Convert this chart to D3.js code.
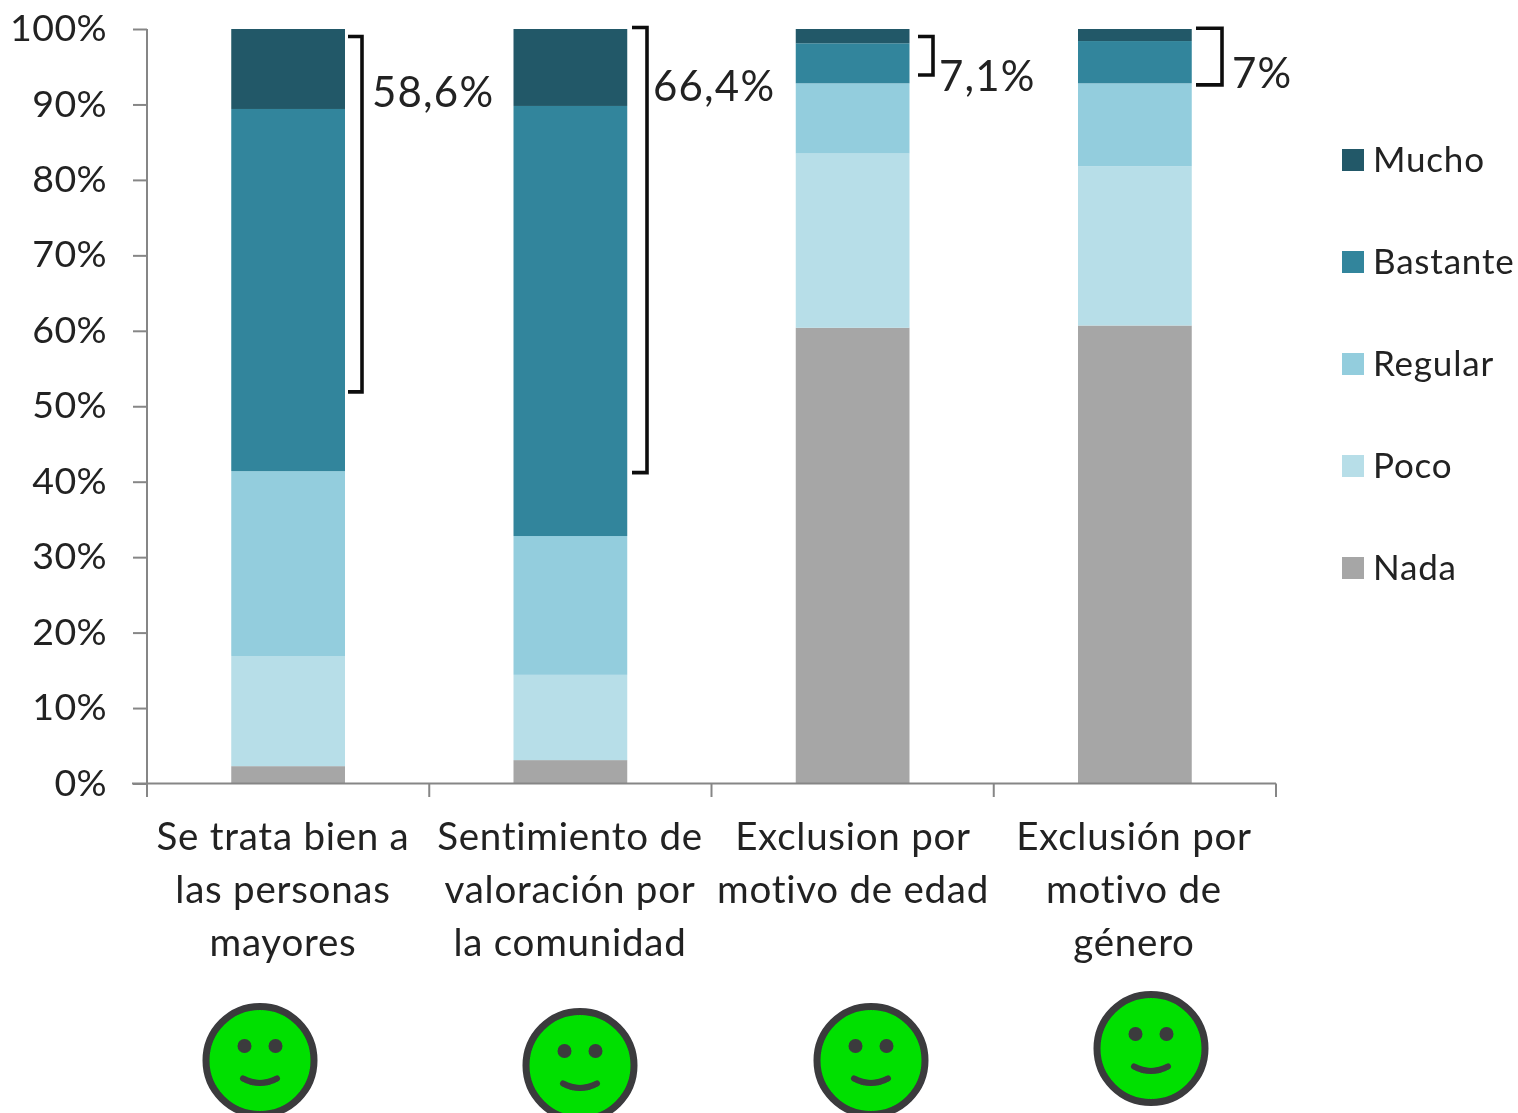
<!DOCTYPE html>
<html><head><meta charset="utf-8">
<style>html,body{margin:0;padding:0;background:#fff}svg{display:block}
text{font-family:Lato,"Open Sans",sans-serif;fill:#222}</style>
<script src="https://d3js.org/d3.v7.min.js"></script></head><body>
<script>
const categories=["Se trata bien a las personas mayores","Sentimiento de valoración por la comunidad","Exclusion por motivo de edad","Exclusión por motivo de género"];
const labelLines=[["Se trata bien a","las personas","mayores"],["Sentimiento de","valoración por","la comunidad"],["Exclusion por","motivo de edad"],["Exclusión por","motivo de","género"]];
const seriesNames=["Nada","Poco","Regular","Bastante","Mucho"];
const nada=[2.3,3.1,60.4,60.7];
const poco=[14.6,11.3,23.1,21.1];
const regular=[24.5,18.4,9.3,11];
const bastante=[48,57,5.3,5.6];
const mucho=[10.6,10.2,1.9,1.6];
const colors=["#A6A6A6","#B7DEE8","#93CDDD","#31859C","#215968"];
const yTicks=[0,10,20,30,40,50,60,70,80,90,100];
const bracketLabels=["58,6%","66,4%","7,1%","7%"];
const bracketTop=[99,100.2,99,100.1];
const bracketBottom=[51.9,41.2,93.9,92.6];

const W=1518,H=1113;
const svg=d3.select("body").append("svg").attr("width",W).attr("height",H);
const defs=svg.append("defs");
defs.append("filter").attr("id","soft").append("feGaussianBlur").attr("stdDeviation",0.55);
const g=svg.append("g").attr("filter","url(#soft)");
const y=d3.scaleLinear().domain([0,100]).range([783.5,29]);
const x=d3.scaleBand().domain(categories).range([147,1276]).paddingInner(0.597).paddingOuter(0.2985);
const rows=[nada,poco,regular,bastante,mucho];
const table=categories.map((c,i)=>{const o={c};seriesNames.forEach((s,j)=>o[s]=rows[j][i]);return o;});
const stack=d3.stack().keys(seriesNames)(table);

g.selectAll("g.s").data(stack).join("g").attr("fill",(d,i)=>colors[i])
 .selectAll("rect").data(d=>d).join("rect")
 .attr("x",d=>x(d.data.c)).attr("width",x.bandwidth())
 .attr("y",d=>y(d[1])).attr("height",d=>y(d[0])-y(d[1]));

const axisColor="#868686";
const ya=g.append("g").attr("transform","translate(147,0)")
 .call(d3.axisLeft(y).tickValues(yTicks).tickSize(14).tickFormat(d=>d+"%"));
ya.selectAll("path,line").attr("stroke",axisColor).attr("stroke-width",2);
ya.select("path").attr("d","M0,783.5V29");
ya.selectAll("text").attr("x",-40).attr("dy","0.31em").style("font-size","37.5px").style("font-family","Lato").style("letter-spacing","0.4px");
const boundaries=d3.range(categories.length+1).map(i=>147+i*x.step());
g.append("g").selectAll("line").data(boundaries).join("line")
 .attr("x1",d=>d).attr("x2",d=>d).attr("y1",y(0)).attr("y2",797).attr("stroke",axisColor).attr("stroke-width",2);
g.append("line").attr("x1",132).attr("x2",1276).attr("y1",y(0)).attr("y2",y(0)).attr("stroke",axisColor).attr("stroke-width",2);

const labelCx=[283,570,853,1134];
labelLines.forEach((ls,i)=>ls.forEach((t,j)=>{
 g.append("text").attr("x",labelCx[i]).attr("y",850+j*53).attr("text-anchor","middle")
  .style("font-size","38.5px").style("letter-spacing","0.75px").text(t);
}));

// brackets
const bx=[348,632,918,1196],bw=[14,15,15,26],lx=[372,653,939,1232],ly=[107,101,91,88];
bracketLabels.forEach((t,i)=>{
 const r=bx[i]+bw[i];
 g.append("path").attr("d",`M${bx[i]},${y(bracketTop[i])}H${r}V${y(bracketBottom[i])}H${bx[i]}`)
  .attr("fill","none").attr("stroke","#111").attr("stroke-width",3.6);
 g.append("text").attr("x",lx[i]).attr("y",ly[i]).style("font-size","42px").style("letter-spacing","1.2px").text(t);
});

// legend
const legendNames=[...seriesNames].reverse();
const legY=d3.scalePoint().domain(legendNames).range([160,568]);
legendNames.forEach(n=>{
 const c=colors[seriesNames.indexOf(n)];
 g.append("rect").attr("x",1342).attr("y",legY(n)-11).attr("width",22).attr("height",22).attr("fill",c);
 g.append("text").attr("x",1373).attr("y",legY(n)+12).style("font-size","35px").style("letter-spacing","0.8px").text(n);
});

// faces
const faceCx=[260,580,871,1151],faceCy=[1060.5,1065.5,1060.5,1048.5];
faceCx.forEach((cx,i)=>{
 const f=g.append("g").attr("transform",`translate(${cx},${faceCy[i]})`);
 f.append("circle").attr("r",54).attr("fill","#00E000").attr("stroke","#3a3a3e").attr("stroke-width",7);
 f.append("circle").attr("cx",-15.5).attr("cy",-14.5).attr("r",7).attr("fill","#3a3a3e");
 f.append("circle").attr("cx",15.5).attr("cy",-14.5).attr("r",7).attr("fill","#3a3a3e");
 f.append("path").attr("d","M-17,18Q0,27 17,18").attr("fill","none").attr("stroke","#3a3a3e").attr("stroke-width",6).attr("stroke-linecap","round");
});
</script></body></html>
